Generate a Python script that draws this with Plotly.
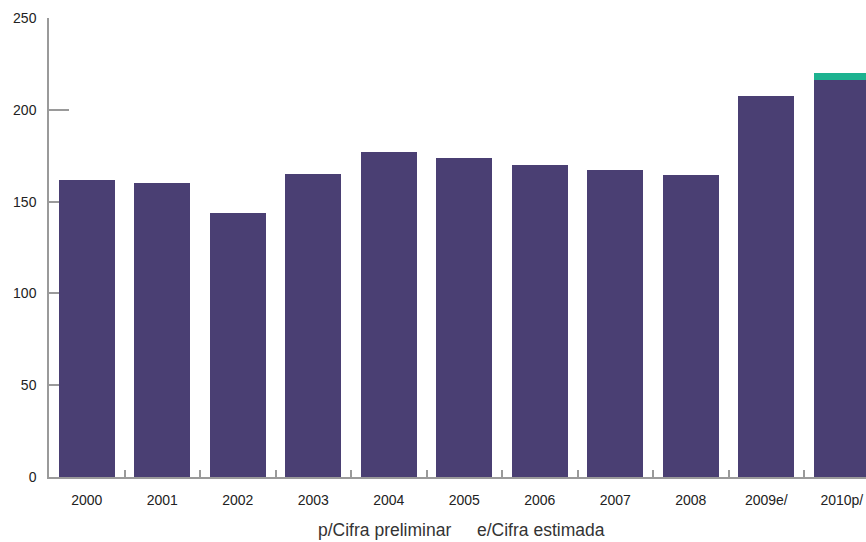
import plotly.graph_objects as go

years = ["2000", "2001", "2002", "2003", "2004", "2005", "2006", "2007", "2008", "2009e/", "2010p/"]
base_values = [162, 160, 144, 165, 177, 174, 170, 167, 164.5, 207.5, 216]
extra_values = [0, 0, 0, 0, 0, 0, 0, 0, 0, 0, 4]
y_ticks = [0, 50, 100, 150, 200, 250]
note_preliminar = "p/Cifra preliminar"
note_estimada = "e/Cifra estimada"

FONT = "Liberation Sans, Arial, sans-serif"

fig = go.Figure()
fig.add_trace(go.Bar(x=years, y=base_values, marker=dict(color="#4a3f73", line=dict(width=0)),
                     showlegend=False, hoverinfo="x+y"))
fig.add_trace(go.Bar(x=years, y=extra_values, marker=dict(color="#1db290", line=dict(width=0)),
                     showlegend=False, hoverinfo="x+y"))

fig.update_layout(
    width=866, height=542,
    margin=dict(l=49, r=0, t=18, b=65),
    barmode="stack",
    bargap=0.26,
    plot_bgcolor="white",
    paper_bgcolor="white",
    font=dict(family=FONT, size=14, color="#222222"),
    xaxis=dict(
        type="category",
        range=[-0.5, 10.32],
        showline=True, linecolor="#9a9a9a", linewidth=1.5,
        ticks="inside", tickson="boundaries", ticklen=7, tickcolor="#9a9a9a", tickwidth=1.5,
        showgrid=False, zeroline=False,
        ticklabelstandoff=9,
        layer="below traces",
        tickfont=dict(family=FONT, size=14, color="#222222"),
    ),
    yaxis=dict(
        range=[0, 250],
        tickvals=y_ticks,
        showline=True, linecolor="#9a9a9a", linewidth=1.5,
        ticks="inside", ticklen=20, tickcolor="#9a9a9a", tickwidth=1.5,
        showgrid=False, zeroline=False,
        ticklabelstandoff=8,
        layer="below traces",
        tickfont=dict(family=FONT, size=14, color="#222222"),
    ),
    annotations=[
        dict(text=note_preliminar, xref="paper", yref="paper", x=0.4945, y=-0.115,
             xanchor="right", yanchor="middle", showarrow=False,
             font=dict(family=FONT, size=17.5, color="#333333")),
        dict(text=note_estimada, xref="paper", yref="paper", x=0.5214, y=-0.115,
             xanchor="left", yanchor="middle", showarrow=False,
             font=dict(family=FONT, size=17.5, color="#333333")),
    ],
)

fig.write_html("out.html")
